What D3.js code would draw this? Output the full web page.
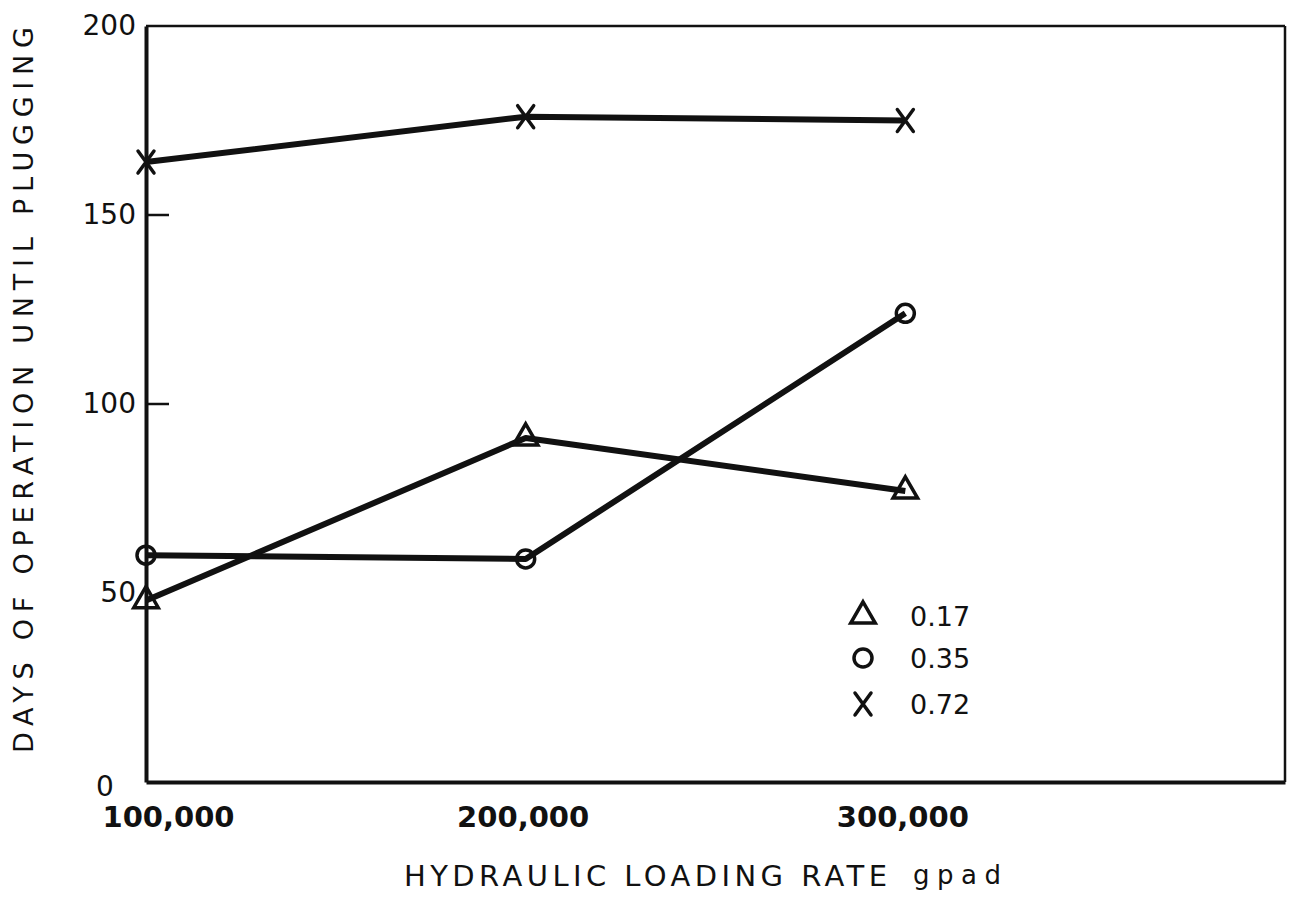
<!DOCTYPE html>
<html>
<head>
<meta charset="utf-8">
<script src="https://cdn.jsdelivr.net/npm/d3@7"></script>
<style>
  html, body { margin: 0; padding: 0; background: #fff; }
  svg { display: block; }
  text { fill: #111; }
</style>
</head>
<body>
<svg id="chart" width="1289" height="898"></svg>
<script>
// Hydraulic loading rate (gpad) at which each run was made
const loadingRates = [100000, 200000, 300000];
// Days of operation until plugging, one series per legend value
const series017 = [48, 91, 77];
const series035 = [60, 59, 124];
const series072 = [164, 176, 175];
const seriesNames = ["0.17", "0.35", "0.72"];
const markerKinds = ["triangle", "circle", "cross"];

const xTickValues = [100000, 200000, 300000];
const xTickLabels = ["100,000", "200,000", "300,000"];
const yTickValues = [50, 100, 150, 200];
const yTickLabels = ["50", "100", "150", "200"];
const yInnerTicks = [100, 150];

const xTitle = "HYDRAULIC LOADING RATE";
const xUnit = "gpad";
const yTitle = "DAYS OF OPERATION UNTIL PLUGGING";

const ink = "#111";
const svg = d3.select("#chart");

const x = d3.scaleLinear().domain([100000, 400000]).range([146, 1285]);
const y = d3.scaleLinear().domain([0, 200]).range([782, 26]);

const allSeries = [series017, series035, series072].map((vals, i) => ({
  name: seriesNames[i],
  kind: markerKinds[i],
  points: vals.map((v, j) => ({ x: loadingRates[j], y: v }))
}));

// Frame: heavy left and bottom axes, lighter top and right edges
const frame = svg.append("g").attr("stroke", ink).attr("fill", "none");
frame.append("line").attr("x1", x(100000)).attr("x2", x(400000)).attr("y1", y(200)).attr("y2", y(200)).attr("stroke-width", 2.5);
frame.append("line").attr("x1", x(400000)).attr("x2", x(400000)).attr("y1", y(200)).attr("y2", y(0)).attr("stroke-width", 2.5);

// Left axis
const yAxis = d3.axisLeft(y)
  .tickValues(yTickValues)
  .tickFormat((d, i) => yTickLabels[i])
  .tickSize(0)
  .tickPadding(10);
const gy = svg.append("g").attr("transform", `translate(${x(100000)},0)`).call(yAxis);
gy.select(".domain").attr("stroke", ink).attr("stroke-width", 4);
gy.selectAll("text")
  .attr("font-family", "'DejaVu Sans', sans-serif")
  .attr("font-size", 28)
  .attr("fill", ink);

// Short inward ticks on the left axis
svg.append("g").selectAll("line").data(yInnerTicks).join("line")
  .attr("x1", x(100000)).attr("x2", x(100000) + 23)
  .attr("y1", d => y(d)).attr("y2", d => y(d))
  .attr("stroke", ink).attr("stroke-width", 2.5);

// Zero label sits at the lower-left corner
svg.append("text")
  .attr("x", x(100000) - 41).attr("y", y(0) + 14)
  .attr("text-anchor", "middle")
  .attr("font-family", "'DejaVu Sans', sans-serif")
  .attr("font-size", 28)
  .text("0");

// Bottom axis
const xAxis = d3.axisBottom(x)
  .tickValues(xTickValues)
  .tickFormat((d, i) => xTickLabels[i])
  .tickSize(0)
  .tickPadding(24);
const gx = svg.append("g").attr("transform", `translate(0,${y(0)})`).call(xAxis);
gx.select(".domain").attr("stroke", ink).attr("stroke-width", 4);
gx.selectAll("text")
  .attr("font-family", "'DejaVu Sans', sans-serif")
  .attr("font-size", 29)
  .attr("font-weight", "bold")
  .attr("dx", (d, i) => i === 0 ? 22 : -3)
  .attr("fill", ink);

// Axis titles
svg.append("text")
  .attr("x", 404).attr("y", 886)
  .attr("font-family", "'DejaVu Sans', sans-serif")
  .attr("font-size", 29)
  .attr("textLength", 483)
  .attr("lengthAdjust", "spacing")
  .text(xTitle);
svg.append("text")
  .attr("x", 913).attr("y", 884)
  .attr("font-family", "'DejaVu Sans', sans-serif")
  .attr("font-size", 26)
  .attr("textLength", 88)
  .attr("lengthAdjust", "spacing")
  .text(xUnit);

svg.append("text")
  .attr("transform", `translate(33,${(27 + 753) / 2}) rotate(-90)`)
  .attr("text-anchor", "middle")
  .attr("font-family", "'DejaVu Sans', sans-serif")
  .attr("font-size", 27)
  .attr("textLength", 726)
  .attr("lengthAdjust", "spacing")
  .text(yTitle);

// Series lines
const line = d3.line().x(d => x(d.x)).y(d => y(d.y));
svg.append("g").selectAll("path").data(allSeries).join("path")
  .attr("d", d => line(d.points))
  .attr("fill", "none")
  .attr("stroke", ink)
  .attr("stroke-width", 6)
  .attr("stroke-linejoin", "round");

// Marker shapes
function drawMarker(g, kind) {
  if (kind === "triangle") {
    g.append("path")
      .attr("d", d3.symbol().type(d3.symbolTriangle).size(260)())
      .attr("fill", "none").attr("stroke", ink).attr("stroke-width", 3.5);
  } else if (kind === "circle") {
    g.append("circle").attr("r", 9)
      .attr("fill", "none").attr("stroke", ink).attr("stroke-width", 3.5);
  } else {
    g.append("path")
      .attr("d", "M-8,-11L8,11M8,-11L-8,11")
      .attr("fill", "none").attr("stroke", ink).attr("stroke-width", 3.5)
      .attr("stroke-linecap", "round");
  }
}

allSeries.forEach(s => {
  s.points.forEach(p => {
    const g = svg.append("g").attr("transform", `translate(${x(p.x)},${y(p.y)})`);
    drawMarker(g, s.kind);
  });
});

// Legend
const legendRows = [616, 658, 704];
allSeries.forEach((s, i) => {
  const g = svg.append("g").attr("transform", `translate(863,${legendRows[i]})`);
  drawMarker(g, s.kind);
  g.append("text")
    .attr("x", 47).attr("y", 10)
    .attr("font-family", "'DejaVu Sans', sans-serif")
    .attr("font-size", 27)
    .text(s.name);
});
</script>
</body>
</html>
